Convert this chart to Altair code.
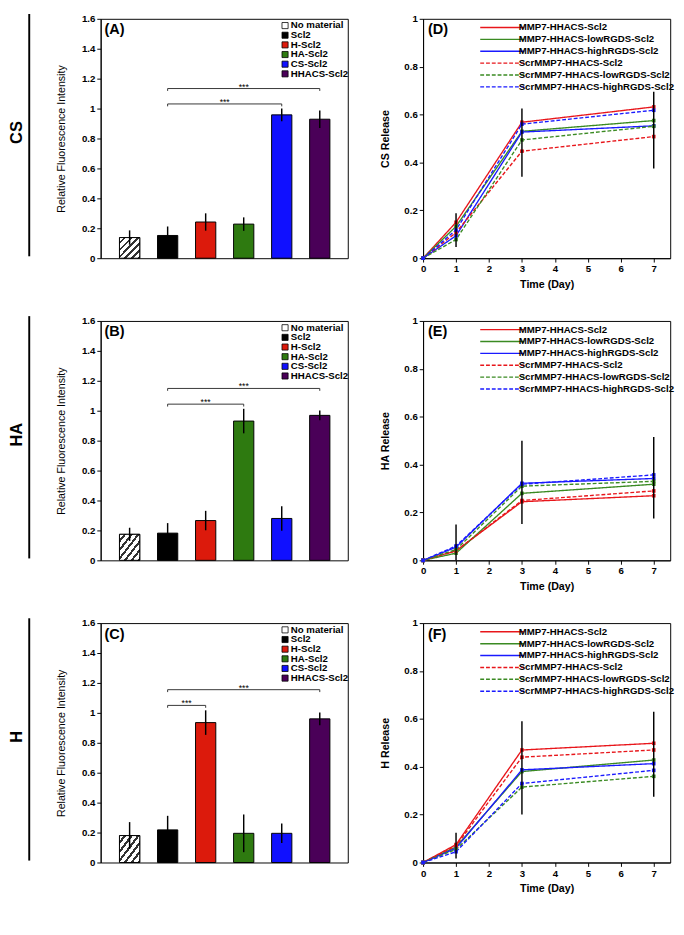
import altair as alt
import pandas as pd

FONT = "Liberation Sans"

# ---------------- bar chart data ----------------
categories = ["No material", "Scl2", "H-Scl2", "HA-Scl2", "CS-Scl2", "HHACS-Scl2"]
bar_colors = ["#ffffff", "#000000", "#dc1a0c", "#2e7a10", "#1010ff", "#4a0058"]

cs_intensity = [0.138, 0.152, 0.242, 0.228, 0.958, 0.929]
cs_intensity_err = [0.048, 0.060, 0.058, 0.045, 0.042, 0.058]
ha_intensity = [0.174, 0.182, 0.266, 0.931, 0.280, 0.969]
ha_intensity_err = [0.044, 0.067, 0.065, 0.082, 0.082, 0.033]
h_intensity = [0.180, 0.218, 0.935, 0.195, 0.195, 0.960]
h_intensity_err = [0.090, 0.094, 0.082, 0.126, 0.065, 0.042]

cs_sig_from = ["Scl2", "Scl2"]
cs_sig_to = ["HHACS-Scl2", "CS-Scl2"]
cs_sig_y = [1.134, 1.031]
ha_sig_from = ["Scl2", "Scl2"]
ha_sig_to = ["HHACS-Scl2", "HA-Scl2"]
ha_sig_y = [1.149, 1.044]
h_sig_from = ["Scl2", "Scl2"]
h_sig_to = ["HHACS-Scl2", "H-Scl2"]
h_sig_y = [1.155, 1.050]

bar_ticks = [0, 0.2, 0.4, 0.6, 0.8, 1.0, 1.2, 1.4, 1.6]

# ---------------- line chart data ----------------
days = [0, 1, 3, 7]
series = [
    "MMP7-HHACS-Scl2",
    "MMP7-HHACS-lowRGDS-Scl2",
    "MMP7-HHACS-highRGDS-Scl2",
    "ScrMMP7-HHACS-Scl2",
    "ScrMMP7-HHACS-lowRGDS-Scl2",
    "ScrMMP7-HHACS-highRGDS-Scl2",
]
line_colors = ["#e8161b", "#3a8a22", "#1a1aff", "#e8161b", "#3a8a22", "#1a1aff"]
line_dashes = [[1, 0], [1, 0], [1, 0], [4, 2], [4, 2], [4, 2]]

cs_release = [
    [0, 0.150, 0.568, 0.632],
    [0, 0.133, 0.530, 0.575],
    [0, 0.094, 0.527, 0.553],
    [0, 0.107, 0.447, 0.508],
    [0, 0.078, 0.494, 0.551],
    [0, 0.118, 0.560, 0.618],
]
ha_release = [
    [0, 0.040, 0.245, 0.270],
    [0, 0.030, 0.280, 0.318],
    [0, 0.055, 0.322, 0.342],
    [0, 0.040, 0.250, 0.290],
    [0, 0.045, 0.310, 0.330],
    [0, 0.060, 0.318, 0.357],
]
h_release = [
    [0, 0.075, 0.470, 0.498],
    [0, 0.065, 0.380, 0.428],
    [0, 0.060, 0.387, 0.413],
    [0, 0.070, 0.440, 0.470],
    [0, 0.055, 0.315, 0.360],
    [0, 0.045, 0.330, 0.385],
]
err_days = [1, 3, 7]
cs_err_low = [0.047, 0.340, 0.375]
cs_err_high = [0.188, 0.625, 0.695]
ha_err_low = [0.0, 0.152, 0.175]
ha_err_high = [0.150, 0.500, 0.515]
h_err_low = [0.017, 0.200, 0.275]
h_err_high = [0.124, 0.590, 0.630]

line_yticks = [0, 0.2, 0.4, 0.6, 0.8, 1.0]
line_xticks = [0, 1, 2, 3, 4, 5, 6, 7]

W = 256
H = 248


def hatch_gradient(n=6):
    stops = []
    for k in range(n):
        a = k / n
        b = (k + 0.62) / n
        c = (k + 1) / n
        stops += [
            alt.GradientStop(color="#ffffff", offset=a),
            alt.GradientStop(color="#ffffff", offset=b),
            alt.GradientStop(color="#333333", offset=b),
            alt.GradientStop(color="#333333", offset=c),
        ]
    return alt.LinearGradient(gradient="linear", stops=stops, x1=0, y1=0, x2=1, y2=1)


def bar_panel(vals, errs, sig_from, sig_to, sig_y, tag, row_label):
    df = pd.DataFrame({
        "cat": categories,
        "idx": list(range(len(categories))),
        "val": vals,
        "lo": [v - e for v, e in zip(vals, errs)],
        "hi": [v + e for v, e in zip(vals, errs)],
    })
    xs = alt.Scale(domain=[-0.634, 5.61], nice=False, zero=False)
    ys = alt.Scale(domain=[0, 1.6], nice=False)
    yaxis = alt.Axis(values=bar_ticks, format="~g", labelFontWeight="bold", labelFontSize=10,
                     title="Relative Fluorescence Intensity", titleFontWeight="normal",
                     titleFontSize=11, titlePadding=16, tickSize=4, grid=False,
                     labelOverlap=False)

    def X(f):
        return alt.X(f, scale=xs, axis=None)

    def Y(f):
        return alt.Y(f, scale=ys, axis=yaxis)

    bars = alt.Chart(df).mark_bar(width=21, orient="vertical", stroke="black", strokeWidth=1).encode(
        x=X("idx:Q"),
        y=Y("val:Q"),
        color=alt.Color("cat:N", sort=categories,
                        scale=alt.Scale(domain=categories, range=bar_colors),
                        legend=alt.Legend(title=None, orient="none", legendX=186, legendY=2,
                                          symbolType="square", symbolSize=40,
                                          symbolStrokeColor="black", symbolStrokeWidth=0.8,
                                          labelFontSize=10, labelFontWeight="bold",
                                          rowPadding=-0.4, labelOffset=1, padding=0)),
    )
    hatch = alt.Chart(df).transform_filter(alt.datum.cat == "No material").mark_bar(
        width=21, orient="vertical", fill=hatch_gradient(), stroke="black", strokeWidth=1
    ).encode(x=X("idx:Q"), y=Y("val:Q"))
    err = alt.Chart(df).mark_rule(color="black", strokeWidth=1.5).encode(
        x=X("idx:Q"), y=Y("lo:Q"), y2="hi:Q")

    sdf = pd.DataFrame({
        "x1": [categories.index(c) for c in sig_from],
        "x2": [categories.index(c) for c in sig_to],
        "y": sig_y,
    })
    sbase = alt.Chart(sdf).transform_calculate(
        ytick="datum.y - 0.016", xm="(datum.x1 + datum.x2) / 2")
    hr = sbase.mark_rule(color="#333333", strokeWidth=1).encode(
        x=X("x1:Q"), x2="x2:Q", y=Y("y:Q"))
    lt = sbase.mark_rule(color="#333333", strokeWidth=1).encode(
        x=X("x1:Q"), y=Y("y:Q"), y2="ytick:Q")
    rt = sbase.mark_rule(color="#333333", strokeWidth=1).encode(
        x=X("x2:Q"), y=Y("y:Q"), y2="ytick:Q")
    stars = sbase.mark_text(text="***", fontSize=9, baseline="middle", dy=-2, font=FONT).encode(
        x=X("xm:Q"), y=Y("y:Q"))

    tdf = pd.DataFrame({"tag": [tag], "row": [row_label]})
    tag_t = alt.Chart(tdf).mark_text(fontSize=15, fontWeight="bold", align="left", baseline="middle",
                                     font=FONT).encode(
        x=alt.value(4), y=alt.value(11), text="tag:N")
    row_t = alt.Chart(tdf).mark_text(fontSize=17, fontWeight="bold", angle=270, align="center",
                                     baseline="middle", font=FONT).encode(
        x=alt.value(-86), y=alt.value(H * 0.475), text="row:N")
    row_line = alt.Chart(tdf).mark_rule(color="black", strokeWidth=2).encode(
        x=alt.value(-74), y=alt.value(-5), y2=alt.value(H - 2))

    return alt.layer(bars, hatch, err, hr, lt, rt, stars, tag_t, row_t, row_line).properties(
        width=W, height=H)


def line_panel(release, err_low, err_high, tag, ytitle):
    rows = []
    for s, vals in zip(series, release):
        for d, v in zip(days, vals):
            rows.append({"series": s, "day": d, "value": v})
    df = pd.DataFrame(rows)
    edf = pd.DataFrame({"day": err_days, "lo": err_low, "hi": err_high})
    xs = alt.Scale(domain=[0, 7.5], nice=False, zero=False)
    ys = alt.Scale(domain=[0, 1], nice=False)
    xaxis = alt.Axis(values=line_xticks, format="d", labelFontWeight="bold", labelFontSize=10,
                     title="Time (Day)", titleFontWeight="bold", titleFontSize=11, titlePadding=5,
                     tickSize=4, grid=False, labelFlush=False, labelOverlap=False)
    yaxis = alt.Axis(values=line_yticks, format="~g", labelFontWeight="bold", labelFontSize=10,
                     title=ytitle, titleFontWeight="bold", titleFontSize=11, titlePadding=14,
                     tickSize=4, grid=False, labelOverlap=False)
    leg = alt.Legend(title=None, orient="none", legendX=75, legendY=2,
                     symbolType="M-3.8,0H3.8", symbolSize=144, symbolStrokeWidth=1.5,
                     labelFontSize=10, labelFontWeight="bold", rowPadding=0.3, labelOffset=10,
                     padding=0)
    lines = alt.Chart(df).mark_line(
        strokeWidth=1.4,
        point=alt.OverlayMarkDef(filled=True, size=14, shape="square"),
    ).encode(
        x=alt.X("day:Q", scale=xs, axis=xaxis),
        y=alt.Y("value:Q", scale=ys, axis=yaxis),
        color=alt.Color("series:N", sort=series, scale=alt.Scale(domain=series, range=line_colors),
                        legend=leg),
        strokeDash=alt.StrokeDash("series:N", sort=series,
                                  scale=alt.Scale(domain=series, range=line_dashes), legend=leg),
        order=alt.Order("day:Q"),
    )
    err = alt.Chart(edf).mark_rule(color="black", strokeWidth=1.5).encode(
        x=alt.X("day:Q", scale=xs, axis=xaxis), y=alt.Y("lo:Q", scale=ys, axis=yaxis), y2="hi:Q")
    tdf = pd.DataFrame({"tag": [tag]})
    tag_t = alt.Chart(tdf).mark_text(fontSize=15, fontWeight="bold", align="left", baseline="middle",
                                     font=FONT).encode(
        x=alt.value(5), y=alt.value(11), text="tag:N")
    return alt.layer(lines, err, tag_t).properties(width=W, height=H)


def make_row(bar, line):
    return alt.hconcat(bar, line, spacing=30).resolve_scale(
        color="independent", strokeDash="independent", x="independent", y="independent"
    ).resolve_legend(color="independent", strokeDash="independent")


row1 = make_row(
    bar_panel(cs_intensity, cs_intensity_err, cs_sig_from, cs_sig_to, cs_sig_y, "(A)", "CS"),
    line_panel(cs_release, cs_err_low, cs_err_high, "(D)", "CS Release"),
)
row2 = make_row(
    bar_panel(ha_intensity, ha_intensity_err, ha_sig_from, ha_sig_to, ha_sig_y, "(B)", "HA"),
    line_panel(ha_release, ha_err_low, ha_err_high, "(E)", "HA Release"),
)
row3 = make_row(
    bar_panel(h_intensity, h_intensity_err, h_sig_from, h_sig_to, h_sig_y, "(C)", "H"),
    line_panel(h_release, h_err_low, h_err_high, "(F)", "H Release"),
)

chart = alt.vconcat(row1, row2, row3, spacing=25).resolve_scale(
    color="independent", strokeDash="independent", x="independent", y="independent"
).resolve_legend(color="independent", strokeDash="independent").properties(
    padding={"left": 0, "top": -12, "right": 0, "bottom": 0}
).configure_view(
    stroke="black", strokeWidth=1
).configure_axis(
    labelFont=FONT, titleFont=FONT, labelColor="black", titleColor="black",
    domainColor="black", tickColor="black", domainWidth=1, tickWidth=1, grid=False,
).configure_legend(
    labelFont=FONT, labelColor="black", labelLimit=0,
).configure_text(font=FONT)

chart.save("out.html", embed_options={"renderer": "svg", "actions": False})
